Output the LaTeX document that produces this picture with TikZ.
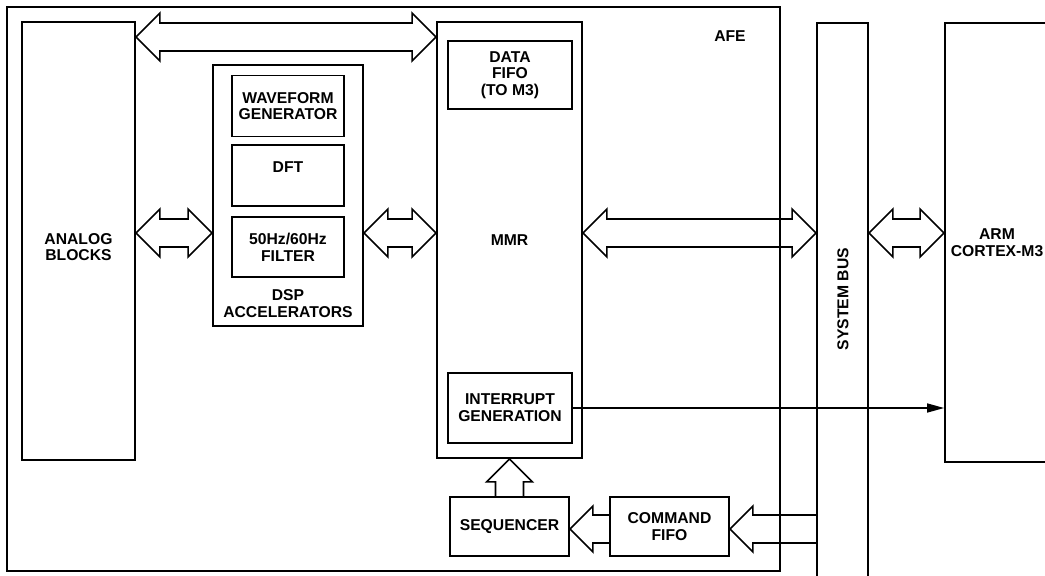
\documentclass[tikz,border=0pt]{standalone}
\usepackage{fontspec}
\setmainfont{Liberation Sans}
\usetikzlibrary{calc,arrows.meta}
\tikzset{
  blk/.style={draw, line width=1.8pt, inner sep=0pt, minimum width=#1},
  txt/.style={font=\fontsize{15.7}{16.7}\selectfont\bfseries, align=center, inner sep=0pt},
  arr/.style={draw, line width=1.6pt, line join=miter},
  sig/.style={draw, line width=1.5pt, -{Triangle[length=17pt,width=9pt]}},
}
% horizontal double-headed hollow arrow between two tips (same y)
\newcommand{\dblarrow}[2]{%
  \path[arr] let \p1=(#1), \p2=(#2) in
    (\x1,\y1) -- (\x1+24pt,\y1+24pt) -- (\x1+24pt,\y1+14pt) -- (\x2-24pt,\y1+14pt)
    -- (\x2-24pt,\y1+24pt) -- (\x2,\y1) -- (\x2-24pt,\y1-24pt) -- (\x2-24pt,\y1-14pt)
    -- (\x1+24pt,\y1-14pt) -- (\x1+24pt,\y1-24pt) -- cycle;}
% left-pointing hollow arrow: tip #1, tail #2
\newcommand{\leftarrowshape}[2]{%
  \path[arr] let \p1=(#1), \p2=(#2) in
    (\x2,\y1+14pt) -- (\x1+23pt,\y1+14pt) -- (\x1+23pt,\y1+23pt) -- (\x1,\y1)
    -- (\x1+23pt,\y1-23pt) -- (\x1+23pt,\y1-14pt) -- (\x2,\y1-14pt);}
% up-pointing hollow arrow: tip #1, tail #2
\newcommand{\uparrowshape}[2]{%
  \path[arr] let \p1=(#1), \p2=(#2) in
    (\x1-14pt,\y2) -- (\x1-14pt,\y1-23pt) -- (\x1-23pt,\y1-23pt) -- (\x1,\y1)
    -- (\x1+23pt,\y1-23pt) -- (\x1+14pt,\y1-23pt) -- (\x1+14pt,\y2);}
\begin{document}
\begin{tikzpicture}[x=1pt,y=-1pt]
\useasboundingbox (0,0) rectangle (1045,576);
\clip (0,0) rectangle (1045,576);
\fill[white] (0,0) rectangle (1045,576);

% AFE outer box
\node[blk=773pt, minimum height=564pt] (afe) at (393.5,289) {};
\node[txt] (afelbl) at (730,36) {AFE};

% Analog blocks
\node[blk=113pt, minimum height=438pt] (analog) at (78.5,241) {};
\node[txt] (analoglbl) at (78.5,247) {ANALOG\\BLOCKS};

% DSP accelerators
\node[blk=150pt, minimum height=261pt] (dsp) at (288,195.5) {};
\node[txt] (wave) [blk=112pt, minimum height=61pt] at (288,106) {WAVEFORM\\GENERATOR};
\node[blk=112pt, minimum height=61pt] (dft) at (288,175.5) {};
\node[txt] (dftlbl) at (288,167) {DFT};
\node[txt] (filter) [blk=112pt, minimum height=60pt] at (288,247) {50Hz/60Hz\\FILTER};
\node[txt] (dsplbl) at (288,303.5) {DSP\\ACCELERATORS};

% MMR
\node[txt] (mmr) [blk=145pt, minimum height=436pt] at (509.5,240) {MMR};
\node[txt] (fifo) [blk=124pt, minimum height=68pt] at (510,75) {DATA\\FIFO\\(TO M3)};
\node[txt] (irq) [blk=124pt, minimum height=70pt] at (510,408) {INTERRUPT\\GENERATION};

% Sequencer and command FIFO
\node[txt] (seq) [blk=119pt, minimum height=59pt] at (509.5,526.5) {SEQUENCER};
\node[txt] (cmd) [blk=119pt, minimum height=59pt] at (669.5,526.5) {COMMAND\\FIFO};

% System bus
\node[blk=51pt, minimum height=577pt] (bus) at (842.5,311.5) {};
\node[txt, rotate=90] (buslbl) at (843,299) {SYSTEM BUS};

% ARM
\node[txt] (arm) [blk=104pt, minimum height=439pt] at (997,242.5) {ARM\\CORTEX-M3};

% Connectors
\dblarrow{analog.east |- 0,37}{mmr.west |- 0,37}
\dblarrow{analog.east |- 0,233}{dsp.west |- 0,233}
\dblarrow{dsp.east |- 0,233}{mmr.west |- 0,233}
\dblarrow{mmr.east |- 0,233}{bus.west |- 0,233}
\dblarrow{bus.east |- 0,233}{arm.west |- 0,233}
\uparrowshape{mmr.south -| seq.north}{seq.north}
\leftarrowshape{seq.east |- 0,529}{cmd.west |- 0,529}
\leftarrowshape{cmd.east |- 0,529}{bus.west |- 0,529}
\draw[sig] (irq.east) -- (irq.east -| arm.west);
\end{tikzpicture}
\end{document}
